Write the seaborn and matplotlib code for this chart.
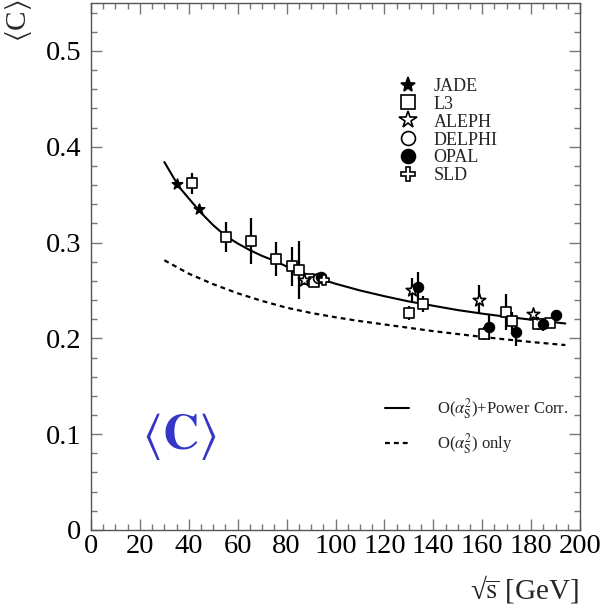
import numpy as np
import pandas as pd
import matplotlib
matplotlib.use("Agg")
import matplotlib.pyplot as plt
import seaborn as sns
from matplotlib.lines import Line2D
from matplotlib.ticker import MultipleLocator

sns.set_style("ticks")
plt.rcParams["font.family"] = ["Liberation Serif", "DejaVu Serif"]
plt.rcParams["mathtext.fontset"] = "stix"

# ---- theory curves ----
fit_x = [30, 33, 36, 40, 45, 50, 55, 60, 65, 70, 75, 80, 90, 100, 110, 120, 130,
         140, 150, 160, 170, 180, 194]
fit_y = [0.384, 0.371, 0.358, 0.346, 0.331, 0.318, 0.307, 0.299, 0.292, 0.286,
         0.281, 0.275, 0.265, 0.257, 0.250, 0.244, 0.2385, 0.234, 0.2295, 0.2258,
         0.2225, 0.2195, 0.2155]
nlo_x = [30, 40, 50, 60, 70, 80, 90, 100, 110, 120, 130, 140, 150, 160, 170, 180, 194]
nlo_y = [0.2815, 0.2675, 0.2565, 0.247, 0.239, 0.232, 0.2265, 0.222, 0.218, 0.2145,
         0.211, 0.2075, 0.2045, 0.2015, 0.1988, 0.1962, 0.193]

# ---- measurements ----
jade_x = [35.0, 44.0]
jade_y = [0.361, 0.335]
jade_e = [0.004, 0.004]

l3_x = [41.1, 55.1, 65.3, 75.5, 82.3, 85.0, 89.0, 91.0, 130.2, 135.7, 160.7,
        169.7, 172.0, 183.0, 187.7]
l3_y = [0.362, 0.3056, 0.302, 0.283, 0.275, 0.2715, 0.262, 0.259, 0.2264, 0.236,
        0.205, 0.2274, 0.218, 0.2153, 0.216]
l3_e = [0.011, 0.016, 0.024, 0.018, 0.020, 0.030, 0.003, 0.003, 0.007, 0.008,
        0.007, 0.019, 0.010, 0.007, 0.005]

aleph_x = [87.3, 131.4, 158.8, 180.9]
aleph_y = [0.261, 0.2507, 0.2403, 0.225]
aleph_e = [0.003, 0.012, 0.015, 0.005]

delphi_x = [93.0]
delphi_y = [0.263]
delphi_e = [0.003]

opal_x = [93.9, 133.9, 162.9, 173.8, 184.7, 190.0]
opal_y = [0.264, 0.254, 0.2118, 0.2066, 0.2146, 0.224]
opal_e = [0.003, 0.015, 0.014, 0.015, 0.007, 0.006]

sld_x = [95.3]
sld_y = [0.261]
sld_e = [0.004]

experiments = [
    ("JADE", jade_x, jade_y, jade_e, "*", "black", 60),
    ("L3", l3_x, l3_y, l3_e, "s", "white", 50),
    ("ALEPH", aleph_x, aleph_y, aleph_e, "*", "white", 90),
    ("DELPHI", delphi_x, delphi_y, delphi_e, "o", "white", 50),
    ("OPAL", opal_x, opal_y, opal_e, "o", "black", 50),
    ("SLD", sld_x, sld_y, sld_e, "P", "white", 60),
]

fig = plt.figure(figsize=(6, 6.11), dpi=100)
ax = fig.add_axes([0.1517, 0.1326, 0.815, 0.8625])

fit_df = pd.DataFrame({"x": fit_x, "y": fit_y})
nlo_df = pd.DataFrame({"x": nlo_x, "y": nlo_y})
sns.lineplot(data=fit_df, x="x", y="y", ax=ax, color="black", lw=1.5,
             estimator=None, zorder=1)
sns.lineplot(data=nlo_df, x="x", y="y", ax=ax, color="black", lw=1.6,
             linestyle=(0, (2.2, 1.8)), estimator=None, zorder=1)

for name, xs, ys, es, mk, fc, sz in experiments:
    ax.errorbar(xs, ys, yerr=es, fmt="none", ecolor="black", elinewidth=1.6,
                capsize=0, zorder=2)
for name, xs, ys, es, mk, fc, sz in experiments:
    df = pd.DataFrame({"x": xs, "y": ys})
    sns.scatterplot(data=df, x="x", y="y", ax=ax, marker=mk, s=sz, color=fc,
                    edgecolor="black", linewidth=1.2, zorder=3, legend=False)

ax.set_xlim(0, 200)
ax.set_ylim(0, 0.55)
ax.set_xticks([0, 20, 40, 60, 80, 100, 120, 140, 160, 180, 200])
ax.set_xticklabels(["0", "20", "40", "60", "80", "100", "120", "140", "160", "180", "200"])
ax.set_yticks([0, 0.1, 0.2, 0.3, 0.4, 0.5])
ax.set_yticklabels(["0", "0.1", "0.2", "0.3", "0.4", "0.5"])
ax.xaxis.set_minor_locator(MultipleLocator(5))
ax.yaxis.set_minor_locator(MultipleLocator(0.02))
ax.tick_params(which="both", direction="in", top=True, right=True,
               color="#777777", labelsize=20.5, labelcolor="black")
ax.tick_params(which="major", length=8, width=1)
ax.tick_params(which="minor", length=4, width=1)
ax.tick_params(axis="y", pad=7)
ax.tick_params(axis="x", pad=3)
for sp in ax.spines.values():
    sp.set_color("#555555")
    sp.set_linewidth(1.0)

ax.set_xlabel("")
ax.set_ylabel("")
fig.text(579 / 600, 1 - 589 / 611, "\u221a" + r"$\overline{\rm s}$ [GeV]", fontsize=21,
         ha="right", va="center")
fig.text(18 / 600, 1 - 21 / 611, r"$\langle$C$\rangle$", fontsize=21,
         rotation=90, ha="center", va="center")

ax.text(0.18, 0.178, r"$\langle\mathbf{C}\rangle$", transform=ax.transAxes,
        fontsize=36, color="#3535c8", ha="center", va="center")

h1 = [Line2D([], [], ls="none", marker=mk,
             markersize=(11 if mk == "*" else 10) if fc == "black" else (13 if mk == "*" else 10),
             mfc=fc, mec="black", mew=1.2) for _, _, _, _, mk, fc, _ in experiments]
l1 = [e[0] for e in experiments]
leg1 = ax.legend(h1, l1, loc="upper left", bbox_to_anchor=(0.63, 0.858),
                 frameon=False, fontsize=13, handlelength=1.0, handletextpad=0.9,
                 borderpad=0, borderaxespad=0, labelspacing=0.05)
ax.add_artist(leg1)

h2 = [Line2D([], [], color="black", lw=1.5),
      Line2D([], [], color="black", lw=1.6, ls=(0, (2.2, 1.8)))]
l2 = [r"O($\alpha_{\rm S}^{2}$)+Power Corr.", r"O($\alpha_{\rm S}^{2}$) only"]
ax.legend(h2, l2, loc="upper left", bbox_to_anchor=(0.601, 0.254),
          frameon=False, fontsize=12, handlelength=1.45, handletextpad=1.65,
          borderpad=0, borderaxespad=0, labelspacing=0.62)

fig.savefig("out.png", dpi=100)
